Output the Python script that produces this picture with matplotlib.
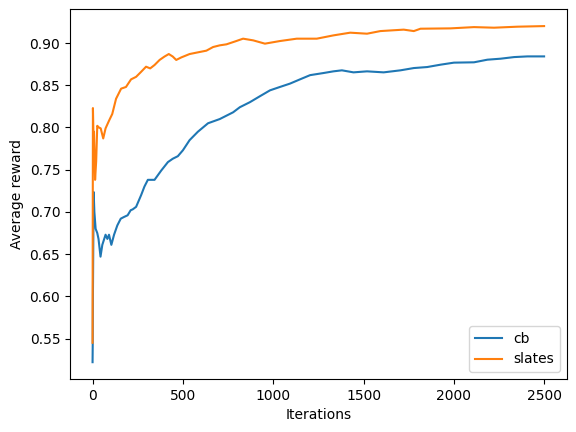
"""Average reward per iteration, cb vs slates."""

import matplotlib
matplotlib.use('Agg')
import matplotlib.pyplot as plt

# values
cb_iters = [0, 1, 2, 6, 10, 17, 26, 33, 44, 54, 63, 72, 82, 91, 104, 119, 137,
            156, 174, 194, 211, 222, 241, 269, 287, 306, 343, 380, 417, 444,
            472, 500, 537, 583, 639, 704, 778, 815, 871, 926, 982, 1037, 1093,
            1148, 1204, 1278, 1333, 1380, 1444, 1519, 1611, 1704, 1778, 1852,
            1926, 2000, 2111, 2185, 2259, 2333, 2407, 2499]
cb_reward = [0.522, 0.545, 0.601, 0.7236, 0.700, 0.680, 0.675, 0.668, 0.647,
             0.661, 0.667, 0.673, 0.668, 0.673, 0.661, 0.673, 0.684, 0.692,
             0.694, 0.696, 0.702, 0.703, 0.706, 0.720, 0.730, 0.738, 0.738,
             0.749, 0.759, 0.763, 0.766, 0.773, 0.785, 0.795, 0.805, 0.810,
             0.818, 0.824, 0.830, 0.837, 0.844, 0.848, 0.852, 0.857, 0.862,
             0.8645, 0.8665, 0.8677, 0.8653, 0.8665, 0.8653, 0.8677, 0.8704,
             0.8716, 0.8744, 0.8768, 0.8772, 0.8803, 0.8815, 0.8834, 0.8842,
             0.8842]

slates_iters = [0, 2, 5, 8, 14, 20, 26, 35, 45, 59, 72, 91, 109, 130, 158, 185,
                213, 241, 269, 296, 319, 343, 371, 398, 422, 444, 463, 491, 537,
                583, 630, 667, 704, 741, 790, 833, 889, 954, 1037, 1130, 1241,
                1333, 1426, 1519, 1593, 1722, 1778, 1815, 1981, 2111, 2222,
                2352, 2499]
slates_reward = [0.545, 0.823, 0.790, 0.795, 0.738, 0.760, 0.802, 0.800, 0.799,
                 0.787, 0.799, 0.808, 0.816, 0.834, 0.846, 0.848, 0.857, 0.860,
                 0.866, 0.872, 0.870, 0.874, 0.880, 0.884, 0.887, 0.884, 0.880,
                 0.883, 0.887, 0.889, 0.891, 0.8953, 0.8973, 0.8985, 0.902,
                 0.9052, 0.9032, 0.8993, 0.9024, 0.9052, 0.9052, 0.9091, 0.9123,
                 0.9111, 0.9142, 0.9159, 0.9142, 0.917, 0.9174, 0.9189, 0.9182,
                 0.9194, 0.9201]

fig = plt.figure(figsize=(5.76, 4.32), dpi=100)
ax = fig.add_axes([0.1215, 0.1227, 0.8623, 0.8558])

ax.plot(cb_iters, cb_reward, label='cb')
ax.plot(slates_iters, slates_reward, label='slates')

ax.set_xlabel('Iterations')
ax.set_ylabel('Average reward')
ax.legend(loc='lower right')

fig.savefig('out.png', dpi=100, facecolor='white')
plt.close(fig)
